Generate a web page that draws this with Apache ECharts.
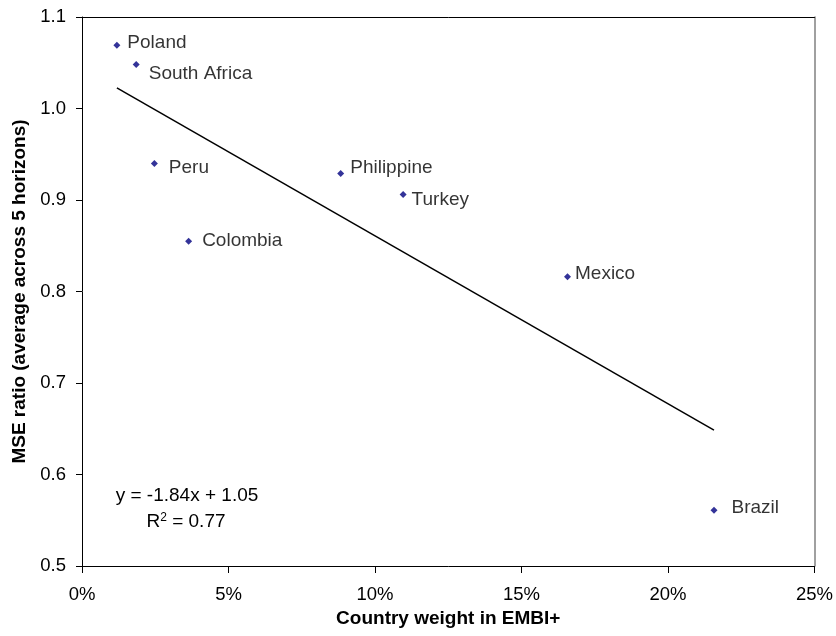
<!DOCTYPE html>
<html>
<head>
<meta charset="utf-8">
<script src="https://cdn.jsdelivr.net/npm/echarts@6/dist/echarts.min.js"></script>
<style>html,body{margin:0;padding:0;background:#fff}#c{width:836px;height:636px}</style>
</head>
<body>
<div id="c"></div>
<script>
// Data
const countries = ['Poland','South Africa','Peru','Colombia','Philippine','Turkey','Mexico','Brazil'];
const weights   = [0.0119, 0.0185, 0.0247, 0.0364, 0.0883, 0.1096, 0.1657, 0.2157];
const mseRatio  = [1.069, 1.048, 0.940, 0.855, 0.929, 0.906, 0.816, 0.561];
const xTicks = ['0%','5%','10%','15%','20%','25%'];
const yTicks = ['0.5','0.6','0.7','0.8','0.9','1.0','1.1'];
const eqText = 'y = -1.84x + 1.05';

// label placement (style only)
const labelOffsets = {
  'Poland':[7,-3], 'South Africa':[9,9], 'Peru':[11,4], 'Colombia':[10,0],
  'Philippine':[6,-6], 'Turkey':[5,5], 'Mexico':[4,-3], 'Brazil':[14,-2]
};

// least-squares trend line from the data
const n = weights.length;
const mx = weights.reduce((a,b)=>a+b,0)/n;
const my = mseRatio.reduce((a,b)=>a+b,0)/n;
let sxy=0, sxx=0;
for (let i=0;i<n;i++){ sxy += (weights[i]-mx)*(mseRatio[i]-my); sxx += (weights[i]-mx)**2; }
const slope = sxy/sxx, intercept = my - slope*mx;
const xmin = Math.min(...weights), xmax = Math.max(...weights);
const trend = [[xmin, intercept+slope*xmin],[xmax, intercept+slope*xmax]];

const font = 'Liberation Sans, Arial, sans-serif';
const chart = echarts.init(document.getElementById('c'));
chart.setOption({
  animation:false,
  backgroundColor:'#fff',
  grid:{left:82, top:17, right:21, bottom:70, show:false},
  xAxis:[{
    type:'value', min:0, max:0.25, interval:0.05, position:'bottom',
    name:'Country weight in EMBI+', nameLocation:'middle', nameGap:42,
    nameTextStyle:{fontFamily:font, fontWeight:'bold', fontSize:19, color:'#000'},
    axisLine:{show:true, onZero:false, lineStyle:{color:'#000', width:1}},
    axisTick:{show:true, length:7, lineStyle:{color:'#000'}},
    axisLabel:{fontFamily:font, fontSize:18.5, color:'#000', margin:19,
      formatter:(v)=>xTicks[Math.round(v/0.05)]},
    splitLine:{show:false}
  },{
    type:'value', min:0, max:0.25, position:'top',
    axisLine:{show:true, onZero:false, lineStyle:{color:'#000', width:1}},
    axisTick:{show:false}, axisLabel:{show:false}, splitLine:{show:false}
  }],
  yAxis:[{
    type:'value', min:0.5, max:1.1, interval:0.1, position:'left',
    name:'MSE ratio (average across 5 horizons)', nameLocation:'middle', nameGap:49,
    nameTextStyle:{fontFamily:font, fontWeight:'bold', fontSize:19, color:'#000'},
    axisLine:{show:true, onZero:false, lineStyle:{color:'#000', width:1}},
    axisTick:{show:true, length:6, lineStyle:{color:'#000'}},
    axisLabel:{fontFamily:font, fontSize:18.5, color:'#000', margin:16,
      formatter:(v)=>yTicks[Math.round((v-0.5)/0.1)]},
    splitLine:{show:false}
  },{
    type:'value', min:0.5, max:1.1, position:'right',
    axisLine:{show:true, onZero:false, lineStyle:{color:'#808080', width:1.5}},
    axisTick:{show:false}, axisLabel:{show:false}, splitLine:{show:false}
  }],
  series:[
    {
      type:'line', data:trend, showSymbol:false, symbol:'none',
      lineStyle:{color:'#000', width:1.5}, silent:true, z:1
    },
    {
      type:'scatter', symbol:'diamond', symbolSize:7,
      itemStyle:{color:'#000080'}, z:3,
      data: countries.map((c,i)=>({
        value:[weights[i], mseRatio[i]], name:c,
        label:{show:true, position:'right', distance:0, offset:labelOffsets[c],
          formatter:c, fontFamily:font, fontSize:19, color:'#000'}
      }))
    }
  ],
  graphic:[
    {type:'text', x:187, y:496, style:{text:eqText, font:'19px '+font, fill:'#000', align:'center', verticalAlign:'middle'}},
    {type:'text', x:186, y:522, style:{text:'{r|R}{s|2}{r| = 0.77}', align:'center', verticalAlign:'middle',
      rich:{r:{fontFamily:font, fontSize:19, color:'#000'}, s:{fontFamily:font, fontSize:12, color:'#000', verticalAlign:'top', padding:[0,0,9,0]}}}}
  ]
});
</script>
</body>
</html>
